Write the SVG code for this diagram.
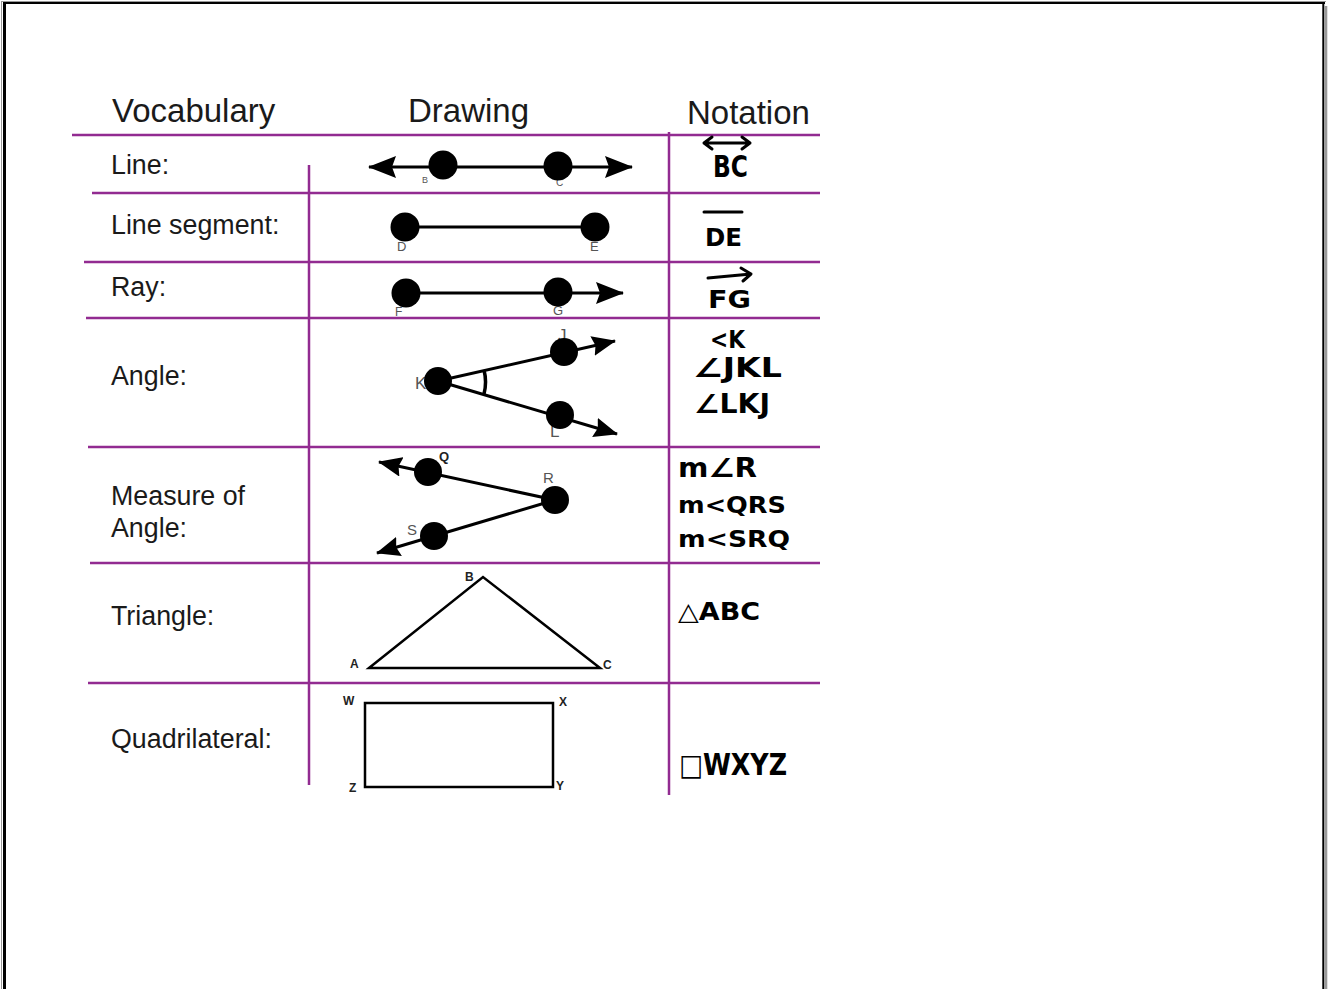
<svg xmlns="http://www.w3.org/2000/svg" width="1332" height="989" viewBox="0 0 1332 989">
<style>
.hdr{font-family:"Liberation Sans",Arial,sans-serif;font-size:33px;fill:#1a1a1a}
.lbl{font-family:"Liberation Sans",Arial,sans-serif;font-size:26.8px;fill:#1a1a1a}
.pt{font-family:"Liberation Sans",Arial,sans-serif;fill:#555}
.ptb{font-family:"Liberation Sans",Arial,sans-serif;font-weight:bold;fill:#222}
.nt{font-family:"DejaVu Sans","Noto Sans",sans-serif;font-weight:bold;fill:#000}
.grid{stroke:#922b91;stroke-width:2.5;fill:none}
.ln{stroke:#000;stroke-width:3;fill:none}
.shape{stroke:#000;stroke-width:2.5;fill:none}
.dot{fill:#000}
.hw{stroke:#000;stroke-width:3;fill:none;stroke-linecap:round;stroke-linejoin:round}
</style>
<defs>
<marker id="arr" viewBox="0 0 28 22" refX="27" refY="11" markerWidth="28" markerHeight="22" markerUnits="userSpaceOnUse" orient="auto-start-reverse">
<path d="M0,0 L28,11 L0,22 L4,11 Z" fill="#000"/>
</marker>
<marker id="arrs" viewBox="0 0 24 20" refX="23" refY="10" markerWidth="24" markerHeight="20" markerUnits="userSpaceOnUse" orient="auto">
<path d="M0,0 L24,10 L0,20 L3,10 Z" fill="#000"/>
</marker>
</defs>
<rect width="1332" height="989" fill="#fff"/>
<g id="border">
<line x1="2" y1="1.5" x2="1326" y2="1.5" stroke="#999" stroke-width="1"/>
<line x1="1.5" y1="1" x2="1.5" y2="989" stroke="#999" stroke-width="1"/>
<line x1="3" y1="3" x2="1325" y2="3" stroke="#000" stroke-width="2"/>
<line x1="4.5" y1="2" x2="4.5" y2="989" stroke="#000" stroke-width="3"/>
<line x1="1323.3" y1="2" x2="1323.3" y2="989" stroke="#000" stroke-width="2"/>
<line x1="1325.8" y1="6" x2="1325.8" y2="989" stroke="#999" stroke-width="3"/>
</g>
<g id="connectors" class="grid">
<line x1="72" y1="135" x2="820" y2="135"/>
<line x1="92" y1="193" x2="820" y2="193"/>
<line x1="84" y1="262" x2="820" y2="262"/>
<line x1="86" y1="318" x2="820" y2="318"/>
<line x1="88" y1="447" x2="820" y2="447"/>
<line x1="90" y1="563" x2="820" y2="563"/>
<line x1="88" y1="683" x2="820" y2="683"/>
<line x1="309" y1="165" x2="309" y2="785"/>
<line x1="669" y1="132" x2="669" y2="795"/>
</g>
<g id="header">
<text class="hdr" x="112" y="122">Vocabulary</text>
<text class="hdr" x="408" y="122">Drawing</text>
<text class="hdr" x="687" y="124">Notation</text>
</g>
<g id="row-line">
<text class="lbl" x="111" y="174">Line:</text>
<text class="pt" x="422" y="183" font-size="9">B</text>
<text class="pt" x="556" y="186" font-size="10">C</text>
<line class="ln" x1="369" y1="167" x2="632" y2="167" marker-start="url(#arr)" marker-end="url(#arr)"/>
<circle class="dot" cx="443" cy="165" r="14.5"/>
<circle class="dot" cx="558" cy="166" r="14.5"/>
<text class="nt" x="713" y="177" font-size="30" textLength="35" lengthAdjust="spacingAndGlyphs">BC</text>
<path class="hw" d="M705,143 L750,143 M712,137 L704,143 L712,149 M742,137 L750,143 L742,149" stroke-width="2.5"/>
</g>
<g id="row-segment">
<text class="lbl" x="111" y="234">Line segment:</text>
<text class="pt" x="397" y="251" font-size="13">D</text>
<text class="pt" x="590" y="251" font-size="13">E</text>
<line class="ln" x1="405" y1="227" x2="595" y2="227"/>
<circle class="dot" cx="405" cy="227" r="14.5"/>
<circle class="dot" cx="595" cy="227" r="14.5"/>
<line class="hw" x1="704" y1="212" x2="742" y2="212" stroke-width="2.5"/>
<text class="nt" x="705" y="246" font-size="25" textLength="37" lengthAdjust="spacingAndGlyphs">DE</text>
</g>
<g id="row-ray">
<text class="lbl" x="111" y="296">Ray:</text>
<text class="pt" x="395" y="316" font-size="12">F</text>
<text class="pt" x="553" y="315" font-size="13">G</text>
<line class="ln" x1="406" y1="293" x2="623" y2="293" marker-end="url(#arr)"/>
<circle class="dot" cx="406" cy="293" r="14.5"/>
<circle class="dot" cx="558" cy="292" r="14.5"/>
<path class="hw" d="M708,278 L751,274 M741,268 L751,274 L743,281" stroke-width="2.5"/>
<text class="nt" x="708" y="308" font-size="25" textLength="43" lengthAdjust="spacingAndGlyphs">FG</text>
</g>
<g id="row-angle">
<text class="lbl" x="111" y="385">Angle:</text>
<text class="pt" x="415" y="389" font-size="17">K</text>
<text class="pt" x="558" y="341" font-size="17">J</text>
<text class="pt" x="550" y="437" font-size="17">L</text>
<line class="ln" x1="438" y1="381" x2="615" y2="341" marker-end="url(#arrs)"/>
<line class="ln" x1="438" y1="381" x2="617" y2="434" marker-end="url(#arrs)"/>
<circle class="dot" cx="438" cy="381" r="14"/>
<circle class="dot" cx="564" cy="352" r="14"/>
<circle class="dot" cx="560" cy="415" r="14"/>
<path d="M484,370 A48,48 0 0 1 484,394" stroke="#000" stroke-width="3.5" fill="none"/>
<text class="nt" x="710" y="348" font-size="25" textLength="35" lengthAdjust="spacingAndGlyphs">&lt;K</text>
<text class="nt" x="693" y="377" font-size="26" textLength="89" lengthAdjust="spacingAndGlyphs">∠JKL</text>
<text class="nt" x="694" y="413" font-size="26" textLength="76" lengthAdjust="spacingAndGlyphs">∠LKJ</text>
</g>
<g id="row-measure">
<text class="lbl" x="111" y="505">Measure of</text>
<text class="lbl" x="111" y="537">Angle:</text>
<text class="ptb" x="439" y="461" font-size="13">Q</text>
<text class="pt" x="543" y="483" font-size="15">R</text>
<text class="pt" x="407" y="535" font-size="15">S</text>
<line class="ln" x1="555" y1="500" x2="379" y2="462" marker-end="url(#arrs)"/>
<line class="ln" x1="555" y1="500" x2="377" y2="553" marker-end="url(#arrs)"/>
<circle class="dot" cx="428" cy="472" r="14"/>
<circle class="dot" cx="555" cy="500" r="14"/>
<circle class="dot" cx="434" cy="536" r="14"/>
<text class="nt" x="678" y="477" font-size="26" textLength="79" lengthAdjust="spacingAndGlyphs">m∠R</text>
<text class="nt" x="678" y="513" font-size="23" textLength="108" lengthAdjust="spacingAndGlyphs">m&lt;QRS</text>
<text class="nt" x="678" y="547" font-size="23" textLength="112" lengthAdjust="spacingAndGlyphs">m&lt;SRQ</text>
</g>
<g id="row-triangle">
<text class="lbl" x="111" y="625">Triangle:</text>
<polygon class="shape" points="369,668 483,577 600,668"/>
<text class="ptb" x="465" y="581" font-size="12">B</text>
<text class="ptb" x="350" y="668" font-size="12">A</text>
<text class="ptb" x="603" y="669" font-size="12">C</text>
<text class="nt" x="678" y="620" font-size="25" textLength="82" lengthAdjust="spacingAndGlyphs">△ABC</text>
</g>
<g id="row-quadrilateral">
<text class="lbl" x="111" y="748">Quadrilateral:</text>
<rect class="shape" x="365" y="703" width="188" height="84"/>
<text class="ptb" x="343" y="705" font-size="12">W</text>
<text class="ptb" x="559" y="706" font-size="12">X</text>
<text class="ptb" x="349" y="792" font-size="12">Z</text>
<text class="ptb" x="556" y="790" font-size="12">Y</text>
<text class="nt" x="679" y="775" font-size="30" textLength="108" lengthAdjust="spacingAndGlyphs">□WXYZ</text>
</g>
</svg>
